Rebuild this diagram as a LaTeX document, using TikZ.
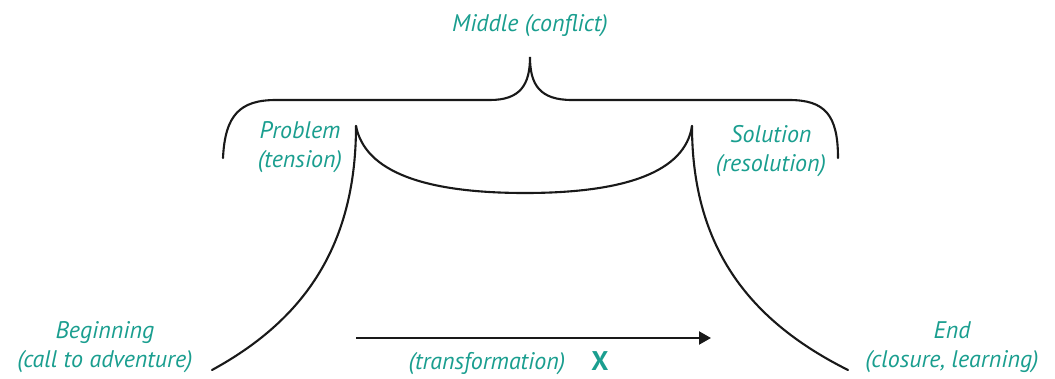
\documentclass[tikz,border=0pt]{standalone}
\usepackage{fontspec}
\setmainfont{PT Sans}
\usetikzlibrary{arrows.meta}
\definecolor{storyteal}{RGB}{26,158,143}
\tikzset{
  label text/.style={text=storyteal, font=\fontsize{24}{29}\selectfont\itshape, align=center, inner sep=0pt},
  curve line/.style={line width=2.1pt, draw=black!90, line cap=round}
}
\begin{document}
\begin{tikzpicture}[x=1pt,y=-1pt]
\useasboundingbox (0,0) rectangle (1055,378);

% labels
\node[label text] (middle) at (530,26) {Middle (conflict)};
\node[label text] (problem) at (300,147) {Problem\\(tension)};
\node[label text] (solution) at (771,151) {Solution\\(resolution)};
\node[label text] (beginning) at (105,347) {Beginning\\(call to adventure)};
\node[label text] (theend) at (952,347) {End\\(closure, learning)};
\node[label text] (transform) at (487,364) {(transformation)};
\node[text=storyteal, font=\fontsize{27}{27}\selectfont\bfseries, inner sep=0pt] (xmark) at (600,361) {X};

% key points
\coordinate (topcusp) at (530,57);
\coordinate (leftcusp) at (356,126);
\coordinate (rightcusp) at (692,126);
\coordinate (leftfoot) at (212,370);
\coordinate (rightfoot) at (848,370);
\coordinate (arrowstart) at (356,338);
\coordinate (arrowend) at (711,338);

% upper brace
\draw[curve line] (223,158) .. controls (225,115) and (240,100) .. (276,100) -- (490,100)
   .. controls (520,100) and (530,85) .. (topcusp)
   .. controls (530,85) and (540,100) .. (572,100) -- (789,100)
   .. controls (825,100) and (838,115) .. (838,158);

% lower brace
\draw[curve line] (leftcusp) .. controls (365,172) and (425,193) .. (525,193)
   .. controls (625,193) and (685,172) .. (rightcusp);

% the two long sides
\draw[curve line] (leftcusp) .. controls (356,250) and (300,322) .. (leftfoot);
\draw[curve line] (rightcusp) .. controls (692,250) and (752,322) .. (rightfoot);

% transformation arrow
\draw[curve line, line cap=butt, -{Triangle[length=12pt,width=13pt]}] (arrowstart) -- (arrowend);
\end{tikzpicture}
\end{document}
